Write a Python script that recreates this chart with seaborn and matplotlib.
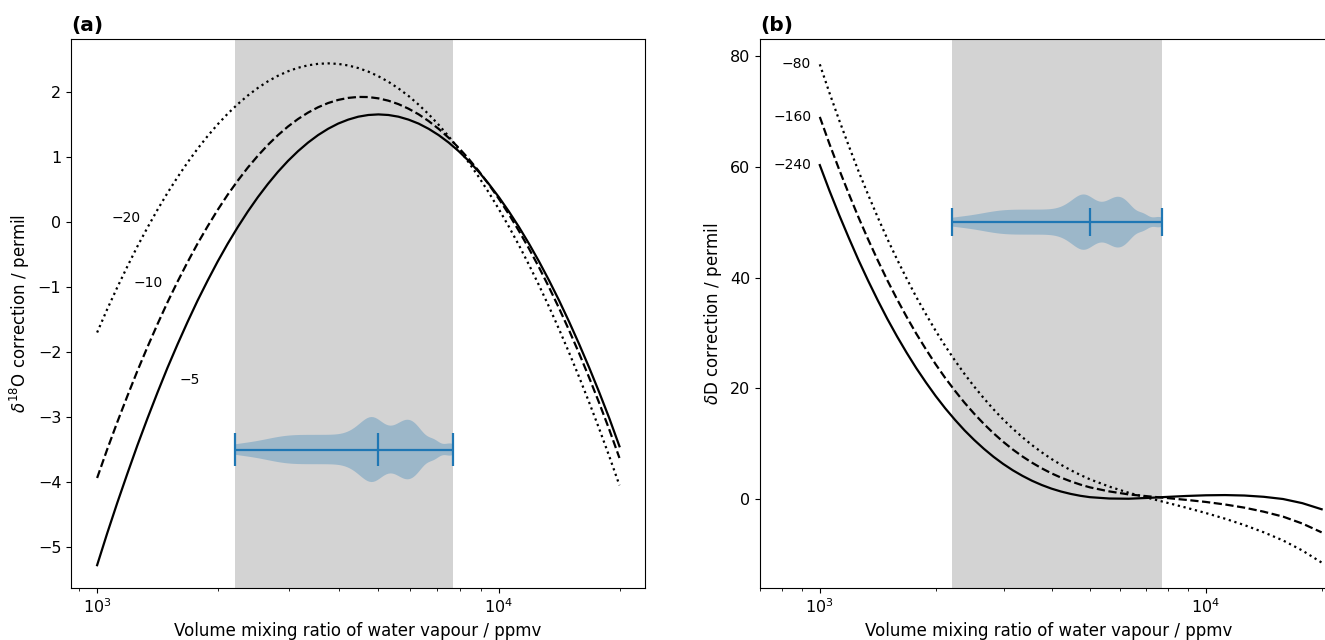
import numpy as np
import matplotlib
matplotlib.use("Agg")
import matplotlib.pyplot as plt
import seaborn as sns

# ---------------- data ----------------
# panel (a): delta-18O correction curves, x = water vapour mixing ratio (ppmv)
x_a = [1000, 1059, 1122, 1189, 1259, 1334, 1413, 1496, 1585, 1679, 1778, 1884, 1995,
       2113, 2239, 2371, 2512, 2661, 2818, 2985, 3162, 3350, 3548, 3758, 3981, 4217,
       4467, 4732, 5012, 5309, 5623, 5957, 6310, 6683, 7079, 7499, 7943, 8414, 8913,
       9441, 10000, 10593, 11220, 11885, 12589, 13335, 14125, 14962, 15849, 16788,
       17783, 18836, 19953]
o18_m5 = [-5.279, -4.792, -4.323, -3.872, -3.439, -3.023, -2.625, -2.245, -1.883, -1.538,
          -1.210, -0.901, -0.609, -0.335, -0.078, 0.160, 0.382, 0.585, 0.771, 0.939,
          1.089, 1.222, 1.337, 1.434, 1.514, 1.575, 1.620, 1.646, 1.655, 1.646, 1.620,
          1.575, 1.514, 1.434, 1.337, 1.222, 1.089, 0.939, 0.771, 0.585, 0.382, 0.160,
          -0.078, -0.335, -0.609, -0.901, -1.210, -1.538, -1.883, -2.245, -2.625, -3.023,
          -3.45]
o18_m10 = [-3.938, -3.501, -3.082, -2.679, -2.294, -1.925, -1.573, -1.238, -0.919, -0.618,
           -0.333, -0.066, 0.185, 0.419, 0.636, 0.836, 1.019, 1.186, 1.335, 1.468, 1.584,
           1.683, 1.765, 1.830, 1.878, 1.909, 1.924, 1.922, 1.902, 1.866, 1.813, 1.743,
           1.657, 1.553, 1.433, 1.295, 1.141, 0.970, 0.782, 0.577, 0.355, 0.117, -0.139,
           -0.411, -0.700, -1.007, -1.330, -1.670, -2.026, -2.400, -2.790, -3.198, -3.63]
o18_m20 = [-1.700, -1.345, -1.008, -0.685, -0.378, -0.088, 0.187, 0.445, 0.688, 0.915,
           1.126, 1.322, 1.501, 1.665, 1.813, 1.945, 2.062, 2.164, 2.249, 2.318, 2.372,
           2.410, 2.433, 2.440, 2.432, 2.408, 2.368, 2.313, 2.242, 2.157, 2.055, 1.939,
           1.806, 1.659, 1.496, 1.317, 1.124, 0.915, 0.691, 0.451, 0.196, -0.074, -0.359,
           -0.660, -0.976, -1.307, -1.653, -2.014, -2.390, -2.781, -3.187, -3.609, -4.05]
labels_a = ["\u221220", "\u221210", "\u22125"]
label_pos_a_x = [1181, 1340, 1703]
label_pos_a_y = [0.06, -0.94, -2.43]

# panel (b): delta-D correction curves
x_b = [1000, 1059, 1122, 1189, 1259, 1334, 1413, 1496, 1585, 1679, 1778, 1884, 1995,
       2113, 2239, 2371, 2512, 2661, 2818, 2985, 3162, 3350, 3548, 3758, 3981, 4217,
       4467, 4732, 5012, 5623, 6310, 7079, 7943, 8913, 10000, 11220, 12589, 14125,
       15849, 17783, 19953]
dD_m240 = [60.3, 55.70, 51.32, 47.15, 43.19, 39.43, 35.88, 32.53, 29.37, 26.41, 23.63,
           21.04, 18.62, 16.38, 14.31, 12.40, 10.66, 9.07, 7.63, 6.34, 5.19, 4.18, 3.29,
           2.53, 1.88, 1.35, 0.92, 0.58, 0.33, 0.09, 0.05, 0.20, 0.38, 0.55, 0.67, 0.71,
           0.63, 0.40, 0.0, -0.75, -1.85]
dD_m160 = [69.0, 64.15, 59.53, 55.11, 50.90, 46.89, 43.10, 39.50, 36.09, 32.88, 29.86,
           27.02, 24.35, 21.86, 19.55, 17.39, 15.40, 13.56, 11.88, 10.34, 8.94, 7.68,
           6.55, 5.54, 4.64, 3.86, 3.19, 2.60, 2.10, 1.37, 0.83, 0.49, 0.17, -0.16, -0.53,
           -0.99, -1.56, -2.29, -3.18, -4.43, -6.02]
dD_m80 = [78.5, 73.37, 68.45, 63.75, 59.25, 54.96, 50.87, 46.99, 43.29, 39.80, 36.48,
          33.36, 30.40, 27.63, 25.02, 22.58, 20.30, 18.18, 16.20, 14.38, 12.69, 11.15,
          9.72, 8.43, 7.24, 6.18, 5.21, 4.34, 3.55, 2.24, 1.13, 0.21, -0.68, -1.58, -2.53,
          -3.56, -4.71, -6.01, -7.48, -9.30, -11.47]
labels_b = ["\u221280", "\u2212160", "\u2212240"]

# humidity samples of the calibration period (shown as violin + shaded range)
humidity = [2200, 2500, 2700,
            2850, 2980, 3110, 3240, 3370, 3500, 3630, 3760, 3890, 4020, 4150, 4270,
            4370, 4460, 4540,
            4610, 4670, 4720, 4770, 4820, 4870, 4920, 4970, 5030,
            5100, 5180, 5270, 5360, 5450, 5540,
            5620, 5690, 5750, 5810, 5870, 5930, 5990, 6050, 6110, 6170, 6240,
            6320, 6410, 6510, 6740, 6870,
            7020, 7450, 7700]

# ---------------- figure ----------------
fig = plt.figure(figsize=(13.25, 6.4), dpi=100)
ax_a = fig.add_axes([71 / 1325, 1 - 588 / 640, (645 - 71) / 1325, (588 - 39) / 640])
ax_b = fig.add_axes([760 / 1325, 1 - 588 / 640, (1338 - 760) / 1325, (588 - 39) / 640])

styles = ["-", "--", ":"]
lw = 1.6

def add_violin(ax, pos, width):
    bw = 220.0 / np.std(humidity, ddof=1)
    try:
        parts = ax.violinplot([humidity], positions=[pos], orientation="horizontal",
                              widths=width, showmedians=True, bw_method=bw)
    except TypeError:
        parts = ax.violinplot([humidity], positions=[pos], vert=False,
                              widths=width, showmedians=True, bw_method=bw)
    for b in parts["bodies"]:
        b.set_facecolor("C0")
        b.set_edgecolor("none")
        b.set_alpha(0.3)
    for key in ("cbars", "cmins", "cmaxes", "cmedians"):
        if key in parts:
            parts[key].set_color("C0")
            parts[key].set_linewidth(1.6)

# ---- panel (a)
ax_a.set_xscale("log")
ax_a.axvspan(min(humidity), max(humidity), color="lightgray", lw=0, zorder=0)
for ys, ls in zip([o18_m5, o18_m10, o18_m20], styles):
    sns.lineplot(x=x_a, y=ys, ax=ax_a, color="black", linestyle=ls, linewidth=lw,
                 legend=False, estimator=None, sort=False)
for t, tx, ty in zip(labels_a, label_pos_a_x, label_pos_a_y):
    ax_a.text(tx, ty, t, ha="center", va="center", fontsize=10)
add_violin(ax_a, -3.5, 1.0)
ax_a.set_xlim(861, 23100)
ax_a.set_ylim(-5.63, 2.815)
ax_a.set_xlabel("Volume mixing ratio of water vapour / ppmv", fontsize=12)
ax_a.set_ylabel(r"$\delta^{18}$O correction / permil", fontsize=12)
ax_a.set_title("(a)", loc="left", fontweight="bold", fontsize=14.5)

# ---- panel (b)
ax_b.set_xscale("log")
ax_b.axvspan(min(humidity), max(humidity), color="lightgray", lw=0, zorder=0)
for ys, ls in zip([dD_m240, dD_m160, dD_m80], styles):
    sns.lineplot(x=x_b, y=ys, ax=ax_b, color="black", linestyle=ls, linewidth=lw,
                 legend=False, estimator=None, sort=False)
for t, ys in zip(labels_b, [dD_m80, dD_m160, dD_m240]):
    ax_b.text(x_b[0] * 0.95, ys[0], t, ha="right", va="center", fontsize=10)
add_violin(ax_b, 50, 10.0)
ax_b.set_xlim(700, 22000)
ax_b.set_ylim(-16.07, 83.07)
ax_b.set_xlabel("Volume mixing ratio of water vapour / ppmv", fontsize=12)
ax_b.set_ylabel(r"$\delta$D correction / permil", fontsize=12)
ax_b.set_title("(b)", loc="left", fontweight="bold", fontsize=14.5)
ax_b.set_yticks([0, 20, 40, 60, 80])

for ax in (ax_a, ax_b):
    ax.tick_params(labelsize=11.5)

fig.savefig("out.png", dpi=100)
